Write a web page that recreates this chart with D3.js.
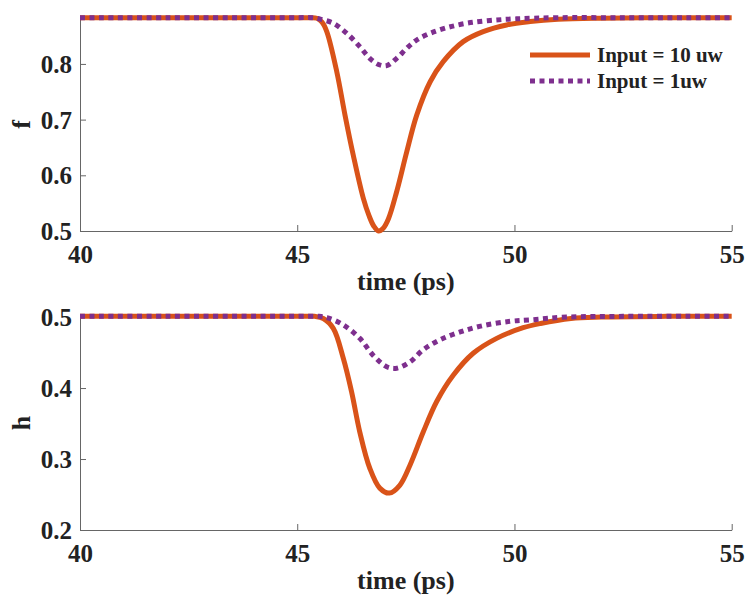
<!DOCTYPE html>
<html>
<head>
<meta charset="utf-8">
<script src="https://cdn.jsdelivr.net/npm/d3@7"></script>
<style>
  html, body { margin: 0; padding: 0; background: #fff; }
  svg { display: block; }
  text { font-family: "Liberation Serif", "Times New Roman", serif; font-weight: bold; fill: #222; }
</style>
</head>
<body>
<svg id="chart" width="746" height="599"></svg>
<script>
// ---- Data ----
const xTicks = [40, 45, 50, 55];
const fTicks = [0.5, 0.6, 0.7, 0.8];
const hTicks = [0.2, 0.3, 0.4, 0.5];
const seriesNames = ["Input = 10 uw", "Input = 1uw"];

// top panel, f
const tF10 = [40, 42, 44, 45, 45.3, 45.45, 45.57, 45.68, 45.91, 46.10, 46.29, 46.52, 46.65, 46.76, 46.87, 46.98, 47.10, 47.29, 47.52, 47.75, 48.06, 48.36, 48.82, 49.28, 49.82, 50.36, 51.0, 52.0, 53.5, 55];
const f10  = [0.883, 0.883, 0.883, 0.883, 0.883, 0.882, 0.875, 0.858, 0.786, 0.708, 0.636, 0.559, 0.528, 0.509, 0.500, 0.505, 0.522, 0.571, 0.642, 0.708, 0.768, 0.804, 0.840, 0.858, 0.870, 0.876, 0.880, 0.882, 0.883, 0.883];
const tF1  = [40, 42, 44, 45, 45.35, 45.55, 45.83, 46.14, 46.44, 46.67, 46.87, 47.06, 47.29, 47.52, 47.75, 48.06, 48.44, 48.90, 49.44, 50.05, 51.0, 52.5, 54, 55];
const f1   = [0.883, 0.883, 0.883, 0.883, 0.883, 0.880, 0.873, 0.855, 0.831, 0.810, 0.799, 0.797, 0.810, 0.828, 0.843, 0.855, 0.865, 0.873, 0.878, 0.881, 0.883, 0.883, 0.883, 0.883];

// bottom panel, h
const tH10 = [40, 42, 44, 45, 45.4, 45.6, 45.83, 46.06, 46.25, 46.44, 46.67, 46.9, 47.12, 47.36, 47.6, 47.9, 48.21, 48.59, 49.05, 49.59, 50.2, 50.6, 51.3, 52.0, 53.5, 55];
const h10  = [0.501, 0.501, 0.501, 0.501, 0.501, 0.498, 0.484, 0.442, 0.395, 0.338, 0.287, 0.259, 0.252, 0.263, 0.292, 0.338, 0.381, 0.418, 0.449, 0.470, 0.485, 0.491, 0.498, 0.500, 0.501, 0.501];
const tH1  = [40, 42, 44, 45, 45.5, 45.7, 46.06, 46.44, 46.75, 47.06, 47.29, 47.6, 47.9, 48.29, 48.75, 49.28, 49.9, 50.36, 51.2, 52.5, 54, 55];
const h1   = [0.501, 0.501, 0.501, 0.501, 0.501, 0.499, 0.489, 0.470, 0.446, 0.430, 0.428, 0.437, 0.454, 0.468, 0.479, 0.488, 0.494, 0.496, 0.500, 0.501, 0.501, 0.501];

// ---- Styles ----
const colors = ["#D95319", "#7E2F8E"];
const svg = d3.select("#chart");

const x = d3.scaleLinear().domain([40, 55]).range([80, 731.7]);

const panels = [
  { yDomain: [0.5, 0.883], yRange: [231, 17.7], ticks: fTicks, label: "f",
    series: [{t: tF10, v: f10}, {t: tF1, v: f1}], legend: true },
  { yDomain: [0.2, 0.5015], yRange: [530, 316], ticks: hTicks, label: "h",
    series: [{t: tH10, v: h10}, {t: tH1, v: h1}], legend: false }
];

panels.forEach(p => {
  const y = d3.scaleLinear().domain(p.yDomain).range(p.yRange);
  const g = svg.append("g");

  // axes
  const xAxis = d3.axisBottom(x).tickValues(xTicks).tickFormat(d3.format("d"))
    .tickSizeInner(-6).tickSizeOuter(0).tickPadding(0);
  const gx = g.append("g").attr("transform", `translate(0,${p.yRange[0]})`).call(xAxis);
  gx.selectAll("text").attr("y", 32).attr("dy", 0).style("font-size", "25px");

  const yAxis = d3.axisLeft(y).tickValues(p.ticks).tickFormat(d3.format(".1f"))
    .tickSizeInner(-6).tickSizeOuter(0).tickPadding(8);
  const gy = g.append("g").attr("transform", `translate(${x.range()[0]},0)`).call(yAxis);
  gy.selectAll("text").attr("dy", "0.34em").style("font-size", "25px");

  [gx, gy].forEach(a => {
    a.select(".domain").attr("stroke", "#666").attr("stroke-width", 1);
    a.selectAll(".tick line").attr("stroke", "#666").attr("stroke-width", 1);
    a.selectAll("text").attr("fill", "#222").style("font-family", "'Liberation Serif', 'Times New Roman', serif").style("font-weight", "bold");
  });

  // axis labels
  g.append("text")
    .attr("x", (x.range()[0] + x.range()[1]) / 2)
    .attr("y", p.yRange[0] + 59)
    .attr("text-anchor", "middle")
    .style("font-size", "26px")
    .text("time (ps)");

  const yc = (p.yRange[0] + p.yRange[1]) / 2;
  g.append("text")
    .attr("transform", `translate(30,${yc}) rotate(-90)`)
    .attr("text-anchor", "middle")
    .style("font-size", "26px")
    .text(p.label);

  // lines
  const line = d3.line().x(d => x(d[0])).y(d => y(d[1])).curve(d3.curveCatmullRom.alpha(0.5));
  p.series.forEach((s, i) => {
    const pts = s.t.map((t, k) => [t, s.v[k]]);
    g.append("path")
      .attr("d", line(pts))
      .attr("fill", "none")
      .attr("stroke", colors[i])
      .attr("stroke-width", 5)
      .attr("stroke-linecap", "butt")
      .attr("stroke-linejoin", "round")
      .attr("stroke-dasharray", i === 1 ? "5,4.5" : null);
  });

  // legend
  if (p.legend) {
    const lg = g.append("g");
    seriesNames.forEach((name, i) => {
      const ly = 55 + i * 26;
      lg.append("line")
        .attr("x1", 530).attr("x2", 590).attr("y1", ly).attr("y2", ly)
        .attr("stroke", colors[i]).attr("stroke-width", 5)
        .attr("stroke-dasharray", i === 1 ? "5,4.5" : null);
      lg.append("text")
        .attr("x", 597).attr("y", ly + 7)
        .style("font-size", "21px")
        .text(name);
    });
  }
});
</script>
</body>
</html>
